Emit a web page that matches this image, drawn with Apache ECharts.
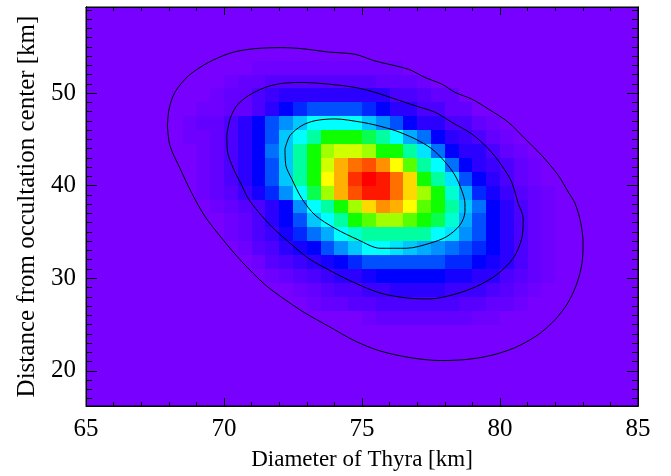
<!DOCTYPE html>
<html>
<head>
<meta charset="utf-8">
<script src="https://cdn.jsdelivr.net/npm/echarts@6/dist/echarts.min.js"></script>
<style>
  html, body { margin: 0; padding: 0; background: #fff; }
  #chart { width: 671px; height: 476px; }
</style>
</head>
<body>
<div id="chart"></div>
<script>
'use strict';

// Cell size of the probability map [km]
const cellW = 0.5;
const cellH = 1.5;

// Bottom edge (y) and left edge (x of first cell) for each coloured row
const rowY  = [25, 26.5, 28, 29.5, 31, 32.5, 34, 35.5, 37, 38.5, 40, 41.5, 43, 44.5, 46, 47.5, 49, 50.5, 52];
const rowX0 = [75, 73, 72.5, 71.5, 71, 70.5, 70, 70, 69.5, 69, 69, 69, 69, 68.5, 68.5, 69, 69.5, 70, 71];

// Colour level of each cell (0 = background purple, 16 = red), read left to right
const rowLevels = [
    [0.5, 1, 1, 1, 1, 1, 1, 1, 0.5, 0.5],
    [0.5, 1, 1, 1.5, 1.5, 2, 2, 2, 2, 2, 2, 1.5, 1.5, 1, 1, 0.5],
    [0.5, 1, 1.5, 2, 2, 2.5, 2.5, 3, 3, 3, 3, 2.5, 2.5, 2.5, 2, 1.5, 1, 0.5],
    [0.5, 1, 1.5, 2, 2.5, 3, 3, 3.5, 4, 4, 4, 4, 4, 3.5, 3.5, 3, 3, 2, 1.5, 1, 0.5],
    [0.5, 1.5, 2, 2.5, 3, 3.5, 4, 4.5, 5, 5, 5, 5, 5, 5, 4.5, 4.5, 4, 3.5, 3, 2, 1, 0.5],
    [0.5, 1.5, 2, 3, 3.5, 4, 5, 6, 7, 8, 8, 7.5, 7, 6.5, 6, 5.5, 5, 4.5, 4, 3, 2, 1, 0.5],
    [0.5, 1, 2, 2.5, 3.5, 4.5, 5.5, 6.5, 8, 8.5, 9, 9, 9, 9, 9, 8, 7.5, 6, 5, 4, 3, 2, 1, 0.5],
    [0.5, 1, 2, 3, 4, 5, 7, 8, 9, 10, 10.5, 11, 11, 10.5, 10, 9.5, 8.5, 6.5, 5, 4, 3, 2, 1, 0.5],
    [0.5, 1, 1.5, 2, 3, 4, 6, 8, 9, 10, 11, 12.5, 13.5, 13, 12, 10.5, 10, 9, 7, 5.5, 4, 3, 2, 1, 0.5],
    [0.5, 1, 1.5, 2.5, 3.5, 4.5, 6, 8, 9.5, 11, 13, 14.5, 15.5, 15.5, 14, 12.5, 11, 10, 8.5, 6.5, 4.5, 3.5, 2.5, 1.5, 1, 0.5],
    [0.5, 1, 2, 3, 4, 5, 7, 9, 10, 12, 13, 15, 16, 15.5, 14, 12.5, 10, 9, 7.5, 5, 4, 3, 2, 1, 0.5],
    [0.5, 1, 2, 3, 4, 5, 7, 9, 10, 11.5, 13, 14, 14.5, 13.5, 12, 10.5, 9, 8, 5.5, 4, 3, 2.5, 2, 1, 0.5],
    [0.5, 1, 2, 3, 4, 5.5, 7, 9, 10, 11, 11.5, 11.5, 11, 10, 10, 9, 7.5, 5.5, 4, 3, 3, 2, 1, 0.5],
    [0.5, 0.5, 1, 2, 3, 4, 5, 7, 8, 9, 10, 10, 10, 9.5, 9, 8, 6.5, 5.5, 4, 3, 2.5, 2, 1, 0.5],
    [0.5, 1, 1, 2, 3, 4, 5, 6, 7, 8, 8, 8, 8, 7, 6, 5, 4, 3, 3, 2, 2, 1, 0.5],
    [0.5, 0.5, 1, 1, 2, 3, 4, 4.5, 5, 5, 5, 5, 4.5, 4, 3, 3, 2, 2, 1, 1],
    [0.5, 1, 1, 2, 2.5, 3, 3, 3, 3, 3, 3, 3, 3, 2, 2, 1.5, 1, 1],
    [0.5, 1, 1, 1.5, 1.5, 1.5, 1.5, 1.5, 1.5, 1.5, 1.5, 1, 1, 1, 0.5],
    [0.5, 0.5, 0.5, 0.5, 0.5, 0.5, 0.5, 0.5, 0.5, 0.5, 0.5]
];

// Confidence contours [diameter km, distance km]
const contourOuter = [
    [67.95, 46.49], [68.01, 48.28], [68.22, 50.08], [68.71, 51.86], [69.43, 53.30], [70.28, 54.37],
    [71.12, 54.80], [72.09, 54.91], [72.82, 54.80], [73.78, 54.44], [74.75, 54.19], [75.47, 53.47],
    [76.68, 52.58], [77.28, 51.69], [77.89, 50.97], [78.37, 50.08], [78.97, 49.36], [79.58, 48.28],
    [80.30, 46.85], [80.91, 45.06], [81.51, 43.27], [82.11, 41.12], [82.47, 39.33], [82.72, 38.08],
    [82.93, 35.93], [83.01, 33.78], [82.97, 31.63], [82.79, 29.48], [82.46, 27.34], [81.99, 25.51],
    [81.38, 23.90], [80.54, 22.50], [79.64, 21.64], [78.73, 21.21], [77.83, 21.11], [76.74, 21.43],
    [75.65, 22.15], [74.75, 23.22], [73.78, 24.83], [72.93, 26.26], [72.21, 27.69], [71.49, 29.30],
    [70.64, 31.81], [69.92, 34.32], [69.31, 36.68], [68.84, 39.15], [68.41, 41.84], [68.04, 44.34],
    [67.95, 46.49]
];
const contourMiddle = [
    [70.10, 45.41], [70.22, 47.21], [70.46, 48.64], [70.88, 49.71], [71.49, 50.61], [72.09, 51.04],
    [72.82, 51.15], [73.78, 50.97], [74.75, 50.61], [75.47, 50.08], [76.20, 49.36], [76.92, 48.64],
    [77.65, 47.93], [78.25, 46.85], [78.97, 45.60], [79.58, 43.98], [80.06, 42.19], [80.42, 40.41],
    [80.66, 38.08], [80.84, 36.47], [80.79, 34.32], [80.48, 32.17], [79.88, 30.38], [79.16, 29.13],
    [78.31, 28.23], [77.46, 27.77], [76.62, 27.87], [75.65, 28.41], [74.75, 29.48], [73.90, 30.74],
    [73.05, 32.17], [72.33, 33.96], [71.73, 35.57], [71.24, 37.19], [70.88, 38.61], [70.64, 40.04],
    [70.34, 41.84], [70.13, 43.63], [70.10, 45.41]
];
const contourInner = [
    [72.21, 43.98], [72.39, 45.41], [72.82, 46.49], [73.30, 47.02], [74.02, 47.21], [74.99, 46.85],
    [75.47, 46.56], [76.20, 45.95], [76.92, 45.06], [77.53, 43.98], [78.01, 42.56], [78.37, 41.12],
    [78.61, 39.51], [78.73, 38.08], [78.73, 37.19], [78.55, 35.75], [78.07, 34.50], [77.46, 33.78],
    [76.62, 33.24], [75.65, 33.24], [74.87, 34.14], [74.02, 35.39], [73.30, 36.82], [72.82, 38.61],
    [72.45, 40.76], [72.24, 42.19], [72.21, 43.98]
];

// Axes
const xRange = [65, 85];
const yRange = [16.2, 59.3];
const yMajorTicks = [20, 30, 40, 50];
const yMinorTicks = [];
for (let v = 17; v <= 59; v++) {
    if (yMajorTicks.indexOf(v) < 0) yMinorTicks.push(v);
}

// Flatten the rows into [x0, y0, level] cells
const cells = [];
rowLevels.forEach((levels, r) => {
    levels.forEach((lv, c) => {
        cells.push([rowX0[r] + c * cellW, rowY[r], lv]);
    });
});

const serif = 'Liberation Serif, Times New Roman, serif';

const makeY = (pos, showLabel, ticks, len, withName) => ({
    type: 'value',
    position: pos,
    min: yRange[0],
    max: yRange[1],
    name: withName ? 'Distance from occultation center [km]' : '',
    nameLocation: 'middle',
    nameGap: 46,
    nameTextStyle: { fontFamily: serif, fontSize: 25, color: '#000' },
    axisLine: { show: true, lineStyle: { color: '#000', width: 1 } },
    axisTick: { show: true, inside: true, length: len, customValues: ticks, lineStyle: { color: '#000' } },
    axisLabel: {
        show: showLabel, customValues: yMajorTicks, margin: 10,
        fontFamily: serif, fontSize: 25, color: '#000'
    },
    splitLine: { show: false }
});

const makeX = (pos, showLabel) => ({
    type: 'value',
    position: pos,
    min: xRange[0],
    max: xRange[1],
    interval: 5,
    name: showLabel ? 'Diameter of Thyra [km]' : '',
    nameLocation: 'middle',
    nameGap: 42,
    nameTextStyle: { fontFamily: serif, fontSize: 23, color: '#000' },
    axisLine: { show: true, lineStyle: { color: '#000', width: 1 } },
    axisTick: { show: true, inside: true, length: 8, lineStyle: { color: '#000' } },
    minorTick: { show: true, splitNumber: 5, length: 4, lineStyle: { color: '#000' } },
    axisLabel: { show: showLabel, margin: 11, fontFamily: serif, fontSize: 25, color: '#000' },
    splitLine: { show: false }
});

const contourSeries = (data) => ({
    type: 'line',
    data: data,
    xAxisIndex: 0,
    yAxisIndex: 0,
    showSymbol: false,
    symbol: 'none',
    smooth: 0.3,
    lineStyle: { color: '#000', width: 1 },
    z: 5,
    silent: true
});

const chart = echarts.init(document.getElementById('chart'));
chart.setOption({
    animation: false,
    backgroundColor: '#fff',
    grid: {
        left: 86, right: 33, top: 7, bottom: 68,
        show: true, backgroundColor: '#7700ff', borderColor: '#000', borderWidth: 1
    },
    visualMap: {
        type: 'continuous',
        show: false,
        min: 0,
        max: 16,
        dimension: 2,
        seriesIndex: 0,
        inRange: {
            color: [
                '#7700ff', '#6400ff', '#4c00ff', '#2c00ff', '#0000ff', '#0050ff', '#0090ff', '#00c8ff',
                '#00ffff', '#00ffa0', '#10ff00', '#a0ff00', '#ffff00', '#ffb000', '#ff7000', '#ff3000', '#ff0000'
            ]
        }
    },
    xAxis: [makeX('bottom', true), makeX('top', false)],
    yAxis: [
        makeY('left', true, yMajorTicks, 11, true),
        makeY('left', false, yMinorTicks, 6, false),
        makeY('right', false, yMajorTicks, 11, false),
        makeY('right', false, yMinorTicks, 6, false)
    ],
    series: [
        {
            type: 'custom',
            xAxisIndex: 0,
            yAxisIndex: 0,
            data: cells,
            encode: { x: 0, y: 1 },
            clip: true,
            silent: true,
            renderItem: function (params, api) {
                const x0 = api.value(0);
                const y0 = api.value(1);
                const p1 = api.coord([x0, y0 + cellH]);
                const p2 = api.coord([x0 + cellW, y0]);
                const x = Math.round(p1[0]);
                const y = Math.round(p1[1]);
                return {
                    type: 'rect',
                    shape: { x: x, y: y, width: Math.round(p2[0]) - x, height: Math.round(p2[1]) - y },
                    style: { fill: api.visual('color') }
                };
            }
        },
        contourSeries(contourOuter),
        contourSeries(contourMiddle),
        contourSeries(contourInner)
    ]
});
</script>
</body>
</html>
